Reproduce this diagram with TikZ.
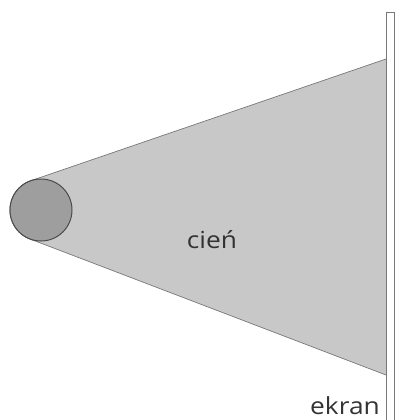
\documentclass[tikz,border=0pt]{standalone}
\usepackage{fontspec}
\setmainfont{Open Sans}[FakeStretch=1.12]
\usetikzlibrary{calc}
\definecolor{cienfill}{RGB}{200,200,200}
\definecolor{cialofill}{RGB}{158,158,158}
\definecolor{krawedz}{RGB}{120,120,120}

\begin{document}
\begin{tikzpicture}[
    x=1pt,y=-1pt,
    every node/.style={font=\fontsize{23.5}{26}\selectfont,text=black!80,inner sep=1pt},
    cialo/.style={circle,draw=black!70,line width=1pt,fill=cialofill,
                  minimum size=62pt,inner sep=0pt,outer sep=0pt},
    ekranbox/.style={draw=krawedz,line width=0.9pt,fill=white},
    granica/.style={draw=krawedz,line width=0.7pt}
  ]
    \useasboundingbox (0,0) rectangle (396,420);
    \node[cialo] (zrodlo) at (41,210) {};
    \coordinate (ekrang) at (386,59);
    \coordinate (ekrand) at (386,375);
    \coordinate (styk1) at (tangent cs:node=zrodlo,point={(ekrang)},solution=1);
    \coordinate (styk2) at (tangent cs:node=zrodlo,point={(ekrand)},solution=2);
    \fill[cienfill] (styk1) -- (ekrang) -- (ekrand) -- (styk2) -- (zrodlo.center) -- cycle;
    \draw[granica] (styk1) -- (ekrang);
    \draw[granica] (styk2) -- (ekrand);
    \node[cialo] at (zrodlo) {};
    \draw[ekranbox] (386,12) rectangle (394,425);
    \node (cien) at (212,240) {cień};
    \node[anchor=base east] (ekran) at (381,414) {ekran};
  \end{tikzpicture}
\end{document}
